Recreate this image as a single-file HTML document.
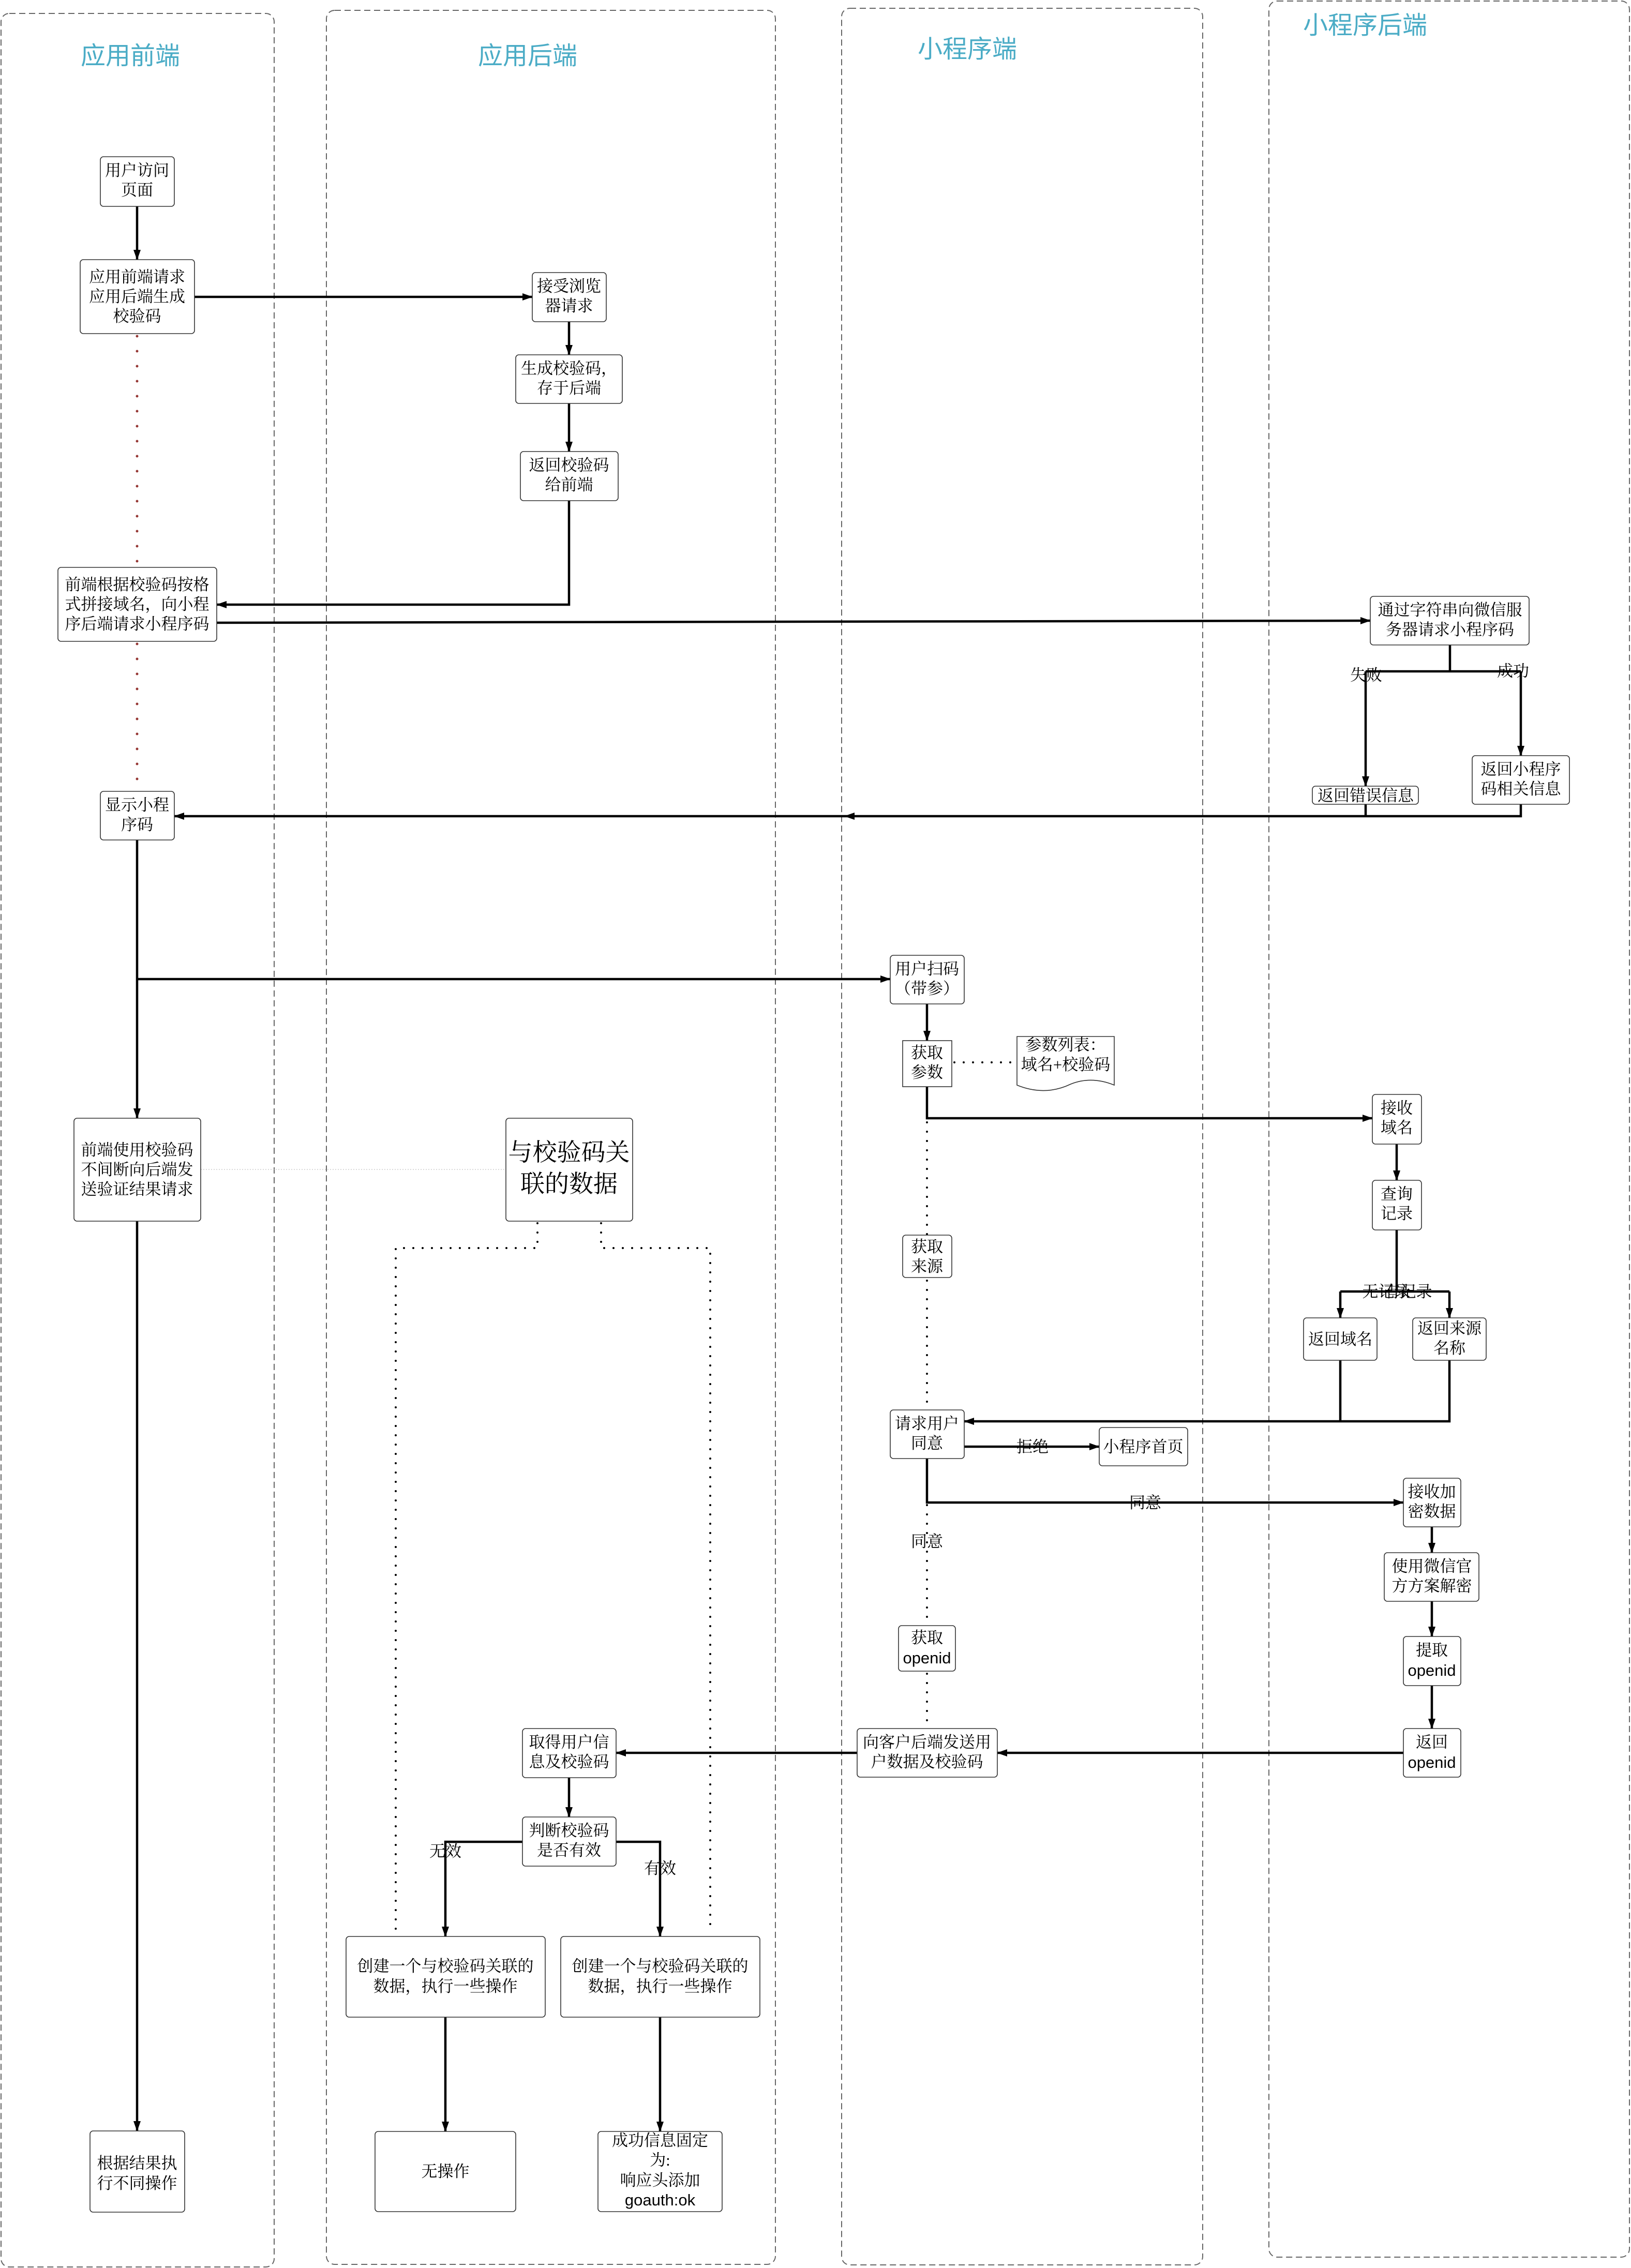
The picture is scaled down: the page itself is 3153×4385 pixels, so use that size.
<!DOCTYPE html>
<html><head><meta charset="utf-8"><style>
html,body{margin:0;padding:0;background:#fff;}
svg{display:block;}
.t{font-family:"Liberation Serif","Noto Serif CJK SC",serif;font-size:31px;fill:#000;text-anchor:middle;}
.s{font-family:"Liberation Sans","Noto Sans CJK SC",sans-serif;}
.h{font-family:"Liberation Sans","Noto Sans CJK SC",sans-serif;font-size:48px;fill:#4bacc6;text-anchor:middle;}
.b{fill:#fff;stroke:#333;stroke-width:1.6;}
.a{fill:none;stroke:#000;stroke-width:4.5;}
.d{fill:none;stroke:#000;stroke-width:4;stroke-dasharray:0 18;stroke-linecap:round;}
.l{fill:none;stroke:#666;stroke-width:2;stroke-dasharray:12 7;}
</style></head><body>
<svg width="3153" height="4385" viewBox="0 0 3153 4385" xmlns="http://www.w3.org/2000/svg">
<defs><marker id="m" markerWidth="8" markerHeight="8" refX="7" refY="4" orient="auto" markerUnits="userSpaceOnUse" viewBox="0 0 8 8"><path d="M0,0 L8,4 L0,8 z" fill="#000"/></marker>
<marker id="ar" markerWidth="20" markerHeight="20" refX="19" refY="10" orient="auto" markerUnits="userSpaceOnUse"><path d="M0,3 L20,10 L0,17 z" fill="#000"/></marker></defs>
<!-- lanes -->
<rect class="l" x="2" y="26" width="528" height="4357" rx="16"/>
<rect class="l" x="631" y="20" width="868" height="4358" rx="16"/>
<rect class="l" x="1627" y="16" width="698" height="4363" rx="16"/>
<rect class="l" x="2453" y="2" width="697" height="4362" rx="16"/>
<text class="h" x="252" y="124">应用前端</text>
<text class="h" x="1020" y="124">应用后端</text>
<text class="h" x="1870" y="111">小程序端</text>
<text class="h" x="2639" y="65">小程序后端</text>

<!-- dotted / faint lines -->
<path d="M265,650 V1095 M265,1245 V1528" fill="none" stroke="#953734" stroke-width="5" stroke-dasharray="0 29" stroke-linecap="round"/>
<path d="M388,2261 H978" stroke="#ccc" stroke-width="1.5" stroke-dasharray="2 3"/>
<path class="d" d="M1039,2365 V2413 H765 V3734"/>
<path class="d" d="M1162,2365 V2413 H1373 V3736"/>
<path class="d" d="M1845,2054 H1966"/>
<path class="d" d="M1792,2170 V2726"/>
<path class="d" d="M1792,2910 V3143 M1792,3236 V3342"/>

<!-- connectors -->
<path class="a" marker-end="url(#ar)" d="M265,399 V502"/>
<path class="a" marker-end="url(#ar)" d="M376,574 H1029"/>
<path class="a" marker-end="url(#ar)" d="M1100,622 V686"/>
<path class="a" marker-end="url(#ar)" d="M1100,780 V873"/>
<path class="a" marker-end="url(#ar)" d="M1100,968 V1169 H419"/>
<path class="a" marker-end="url(#ar)" d="M419,1204 L2649,1200"/>
<path class="a" d="M2803,1247 V1298 M2640,1298 H2940"/>
<path class="a" marker-end="url(#ar)" d="M2640,1298 V1520"/>
<path class="a" marker-end="url(#ar)" d="M2940,1298 V1461"/>
<path class="a" d="M2640,1555 V1578"/>
<path class="a" marker-end="url(#ar)" d="M2940,1555 V1578 H337"/>
<path d="M1632,1578 L1652,1571 L1652,1585 z" fill="#000"/>
<path class="a" marker-end="url(#ar)" d="M265,1624 V2162"/>
<path class="a" marker-end="url(#ar)" d="M265,1893 H1721"/>
<path class="a" marker-end="url(#ar)" d="M265,2361 V4120"/>
<path class="a" marker-end="url(#ar)" d="M1792,1941 V2012"/>
<path class="a" marker-end="url(#ar)" d="M1792,2101 V2162 H2653"/>
<path class="a" marker-end="url(#ar)" d="M2700,2212 V2282"/>
<path class="a" d="M2700,2378 V2497 M2591,2497 H2802"/>
<path class="a" marker-end="url(#ar)" d="M2591,2497 V2548"/>
<path class="a" marker-end="url(#ar)" d="M2802,2497 V2548"/>
<path class="a" d="M2591,2630 V2748"/>
<path class="a" marker-end="url(#ar)" d="M2802,2630 V2748 H1864"/>
<path class="a" marker-end="url(#ar)" d="M1864,2797 H2125"/>
<path class="a" marker-end="url(#ar)" d="M1792,2820 V2905 H2713"/>
<path class="a" marker-end="url(#ar)" d="M2768,2952 V3002"/>
<path class="a" marker-end="url(#ar)" d="M2768,3096 V3164"/>
<path class="a" marker-end="url(#ar)" d="M2768,3259 V3342"/>
<path class="a" marker-end="url(#ar)" d="M2713,3389 H1928"/>
<path class="a" marker-end="url(#ar)" d="M1657,3389 H1191"/>
<path class="a" marker-end="url(#ar)" d="M1100,3437 V3513"/>
<path class="a" marker-end="url(#ar)" d="M1010,3561 H861 V3744"/>
<path class="a" marker-end="url(#ar)" d="M1191,3561 H1276 V3744"/>
<path class="a" marker-end="url(#ar)" d="M861,3900 V4121"/>
<path class="a" marker-end="url(#ar)" d="M1276,3900 V4121"/>

<!-- edge labels -->
<text class="t" x="2641" y="1316">失败</text>
<text class="t" x="2925" y="1308">成功</text>
<text class="t" x="2680" y="2508">无记录</text>
<text class="t" x="2722" y="2508">有记录</text>
<text class="t" x="1996" y="2808">拒绝</text>
<text class="t" x="2214" y="2916">同意</text>
<text class="t" x="1792" y="2991">同意</text>
<text class="t" x="861" y="3590">无效</text>
<text class="t" x="1276" y="3623">有效</text>

<!-- nodes -->
<rect class="b" x="194" y="303" width="143" height="96" rx="6"/>
<text class="t" x="265" y="340">用户访问</text><text class="t" x="265" y="378">页面</text>
<rect class="b" x="155" y="502" width="221" height="143" rx="6"/>
<text class="t" x="265" y="546">应用前端请求</text><text class="t" x="265" y="584">应用后端生成</text><text class="t" x="265" y="622">校验码</text>
<rect class="b" x="1029" y="527" width="143" height="95" rx="6"/>
<text class="t" x="1100" y="564">接受浏览</text><text class="t" x="1100" y="602">器请求</text>
<rect class="b" x="997" y="686" width="206" height="94" rx="6"/>
<text class="t" x="1100" y="723">生成校验码，</text><text class="t" x="1100" y="761">存于后端</text>
<rect class="b" x="1006" y="873" width="189" height="95" rx="6"/>
<text class="t" x="1100" y="910">返回校验码</text><text class="t" x="1100" y="948">给前端</text>
<rect class="b" x="112" y="1097" width="307" height="143" rx="6"/>
<text class="t" x="265" y="1141">前端根据校验码按格</text><text class="t" x="265" y="1179">式拼接域名，向小程</text><text class="t" x="265" y="1217">序后端请求小程序码</text>
<rect class="b" x="2649" y="1153" width="307" height="94" rx="6"/>
<text class="t" x="2803" y="1190">通过字符串向微信服</text><text class="t" x="2803" y="1228">务器请求小程序码</text>
<rect class="b" x="2537" y="1520" width="205" height="35" rx="6"/>
<text class="t" x="2640" y="1549">返回错误信息</text>
<rect class="b" x="2846" y="1461" width="188" height="94" rx="6"/>
<text class="t" x="2940" y="1498">返回小程序</text><text class="t" x="2940" y="1536">码相关信息</text>
<rect class="b" x="194" y="1530" width="143" height="94" rx="6"/>
<text class="t" x="265" y="1567">显示小程</text><text class="t" x="265" y="1605">序码</text>
<rect class="b" x="143" y="2162" width="245" height="199" rx="6"/>
<text class="t" x="265" y="2234">前端使用校验码</text><text class="t" x="265" y="2272">不间断向后端发</text><text class="t" x="265" y="2310">送验证结果请求</text>
<rect class="b" x="978" y="2162" width="245" height="199" rx="6"/>
<text class="t" x="1100" y="2244" style="font-size:47px">与校验码关</text><text class="t" x="1100" y="2305" style="font-size:47px">联的数据</text>
<rect class="b" x="1721" y="1847" width="143" height="94" rx="6"/>
<text class="t" x="1792" y="1884">用户扫码</text><text class="t" x="1792" y="1922">（带参）</text>
<rect class="b" x="1745" y="2012" width="95" height="89" rx="0"/>
<text class="t" x="1792" y="2046">获取</text><text class="t" x="1792" y="2084">参数</text>
<path class="b" d="M1966,2004 H2154 V2098 Q2110,2080 2070,2096 Q2020,2120 1966,2098 Z"/>
<text class="t" x="2060" y="2031">参数列表：</text><text class="t" x="2060" y="2069">域名+校验码</text>
<rect class="b" x="2653" y="2116" width="95" height="96" rx="6"/>
<text class="t" x="2700" y="2153">接收</text><text class="t" x="2700" y="2191">域名</text>
<rect class="b" x="2653" y="2282" width="95" height="96" rx="6"/>
<text class="t" x="2700" y="2319">查询</text><text class="t" x="2700" y="2357">记录</text>
<rect class="b" x="2520" y="2548" width="142" height="82" rx="6"/>
<text class="t" x="2591" y="2600">返回域名</text>
<rect class="b" x="2731" y="2548" width="142" height="82" rx="6"/>
<text class="t" x="2802" y="2579">返回来源</text><text class="t" x="2802" y="2617">名称</text>
<rect class="b" x="1745" y="2388" width="95" height="82" rx="6"/>
<text class="t" x="1792" y="2421">获取</text><text class="t" x="1792" y="2459">来源</text>
<rect class="b" x="1721" y="2726" width="143" height="94" rx="6"/>
<text class="t" x="1792" y="2763">请求用户</text><text class="t" x="1792" y="2801">同意</text>
<rect class="b" x="2125" y="2760" width="171" height="74" rx="6"/>
<text class="t" x="2210" y="2808">小程序首页</text>
<rect class="b" x="2713" y="2858" width="111" height="94" rx="6"/>
<text class="t" x="2768" y="2895">接收加</text><text class="t" x="2768" y="2933">密数据</text>
<rect class="b" x="2676" y="3002" width="183" height="94" rx="6"/>
<text class="t" x="2768" y="3039">使用微信官</text><text class="t" x="2768" y="3077">方方案解密</text>
<rect class="b" x="2713" y="3164" width="111" height="95" rx="6"/>
<text class="t" x="2768" y="3201">提取</text><text class="t s" x="2768" y="3240">openid</text>
<rect class="b" x="1737" y="3143" width="110" height="88" rx="6"/>
<text class="t" x="1792" y="3177">获取</text><text class="t s" x="1792" y="3216">openid</text>
<rect class="b" x="1657" y="3342" width="271" height="94" rx="6"/>
<text class="t" x="1792" y="3379">向客户后端发送用</text><text class="t" x="1792" y="3417">户数据及校验码</text>
<rect class="b" x="2713" y="3342" width="111" height="94" rx="6"/>
<text class="t" x="2768" y="3379">返回</text><text class="t s" x="2768" y="3418">openid</text>
<rect class="b" x="1010" y="3342" width="181" height="95" rx="6"/>
<text class="t" x="1100" y="3379">取得用户信</text><text class="t" x="1100" y="3417">息及校验码</text>
<rect class="b" x="1010" y="3513" width="181" height="95" rx="6"/>
<text class="t" x="1100" y="3550">判断校验码</text><text class="t" x="1100" y="3588">是否有效</text>
<rect class="b" x="669" y="3744" width="385" height="156" rx="6"/>
<text class="t" x="861" y="3812">创建一个与校验码关联的</text><text class="t" x="861" y="3851">数据，执行一些操作</text>
<rect class="b" x="1084" y="3744" width="385" height="156" rx="6"/>
<text class="t" x="1276" y="3812">创建一个与校验码关联的</text><text class="t" x="1276" y="3851">数据，执行一些操作</text>
<rect class="b" x="725" y="4121" width="272" height="155" rx="6"/>
<text class="t" x="861" y="4209">无操作</text>
<rect class="b" x="1156" y="4121" width="240" height="155" rx="6"/>
<text class="t" x="1276" y="4149">成功信息固定</text><text class="t" x="1276" y="4187">为:</text><text class="t" x="1276" y="4226">响应头添加</text><text class="t s" x="1276" y="4264">goauth:ok</text>
<rect class="b" x="174" y="4120" width="183" height="157" rx="6"/>
<text class="t" x="265" y="4193">根据结果执</text><text class="t" x="265" y="4232">行不同操作</text>
</svg>
</body></html>
